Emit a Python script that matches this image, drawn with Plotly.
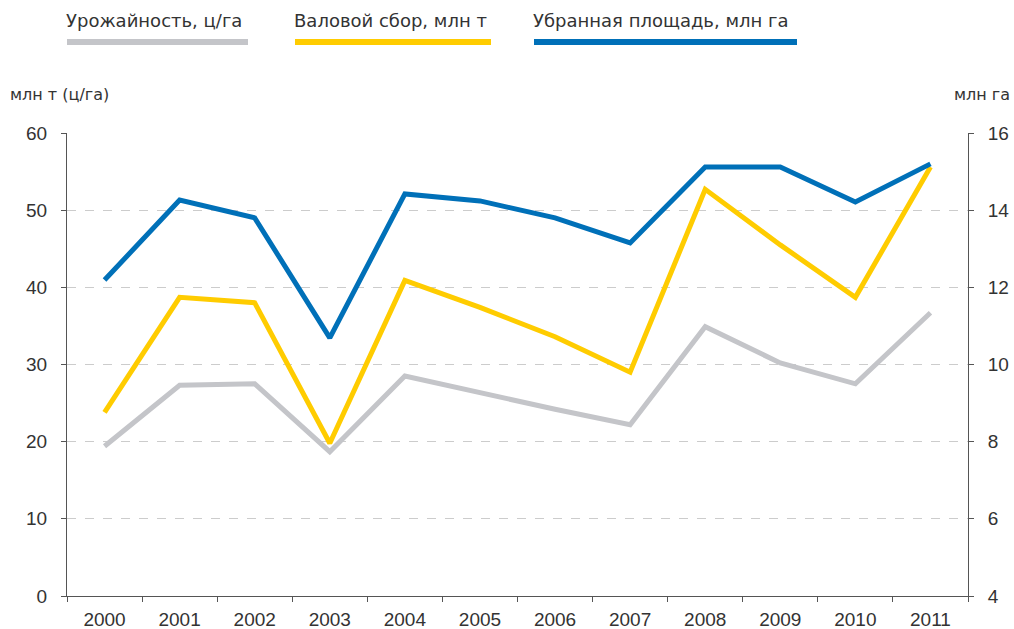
import plotly.graph_objects as go

years = ["2000", "2001", "2002", "2003", "2004", "2005", "2006", "2007", "2008", "2009", "2010", "2011"]
yield_cwt_ha = [19.4, 27.3, 27.5, 18.7, 28.5, 26.3, 24.2, 22.2, 34.9, 30.2, 27.5, 36.7]
gross_harvest_mt = [23.8, 38.7, 38.0, 19.8, 40.9, 37.4, 33.6, 29.0, 52.7, 45.5, 38.7, 55.6]
harvested_area_mha = [12.19, 14.26, 13.80, 10.69, 14.42, 14.24, 13.80, 13.15, 15.12, 15.12, 14.21, 15.20]

series_names = ["Урожайность, ц/га", "Валовой сбор, млн т", "Убранная площадь, млн га"]
colors = ["#C4C5C9", "#FFCC00", "#0070B8"]

W, H = 1014, 629
L, R, T, B = 67, 968, 133, 596

def px(x):
    return (x - L) / (R - L)

def py(y):
    return (B - y) / (B - T)

fig = go.Figure()
fig.add_trace(go.Scatter(x=years, y=yield_cwt_ha, mode="lines", name=series_names[0],
                         line=dict(color=colors[0], width=5), yaxis="y"))
fig.add_trace(go.Scatter(x=years, y=gross_harvest_mt, mode="lines", name=series_names[1],
                         line=dict(color=colors[1], width=5), yaxis="y"))
fig.add_trace(go.Scatter(x=years, y=harvested_area_mha, mode="lines", name=series_names[2],
                         line=dict(color=colors[2], width=5), yaxis="y2"))

tickfont = dict(family="Liberation Sans, Arial", size=19, color="#333333")
axcol = "#555555"

fig.update_layout(
    width=W, height=H,
    margin=dict(l=L, r=W - R, t=T, b=H - B, autoexpand=False),
    plot_bgcolor="white", paper_bgcolor="white",
    showlegend=False,
    hovermode=False,
    xaxis=dict(type="category", range=[-0.5, len(years) - 0.5], tickson="boundaries",
               ticks="outside", ticklen=5, automargin=False,
               tickcolor=axcol, showline=True, linecolor=axcol, linewidth=1,
               showgrid=False, tickfont=tickfont, zeroline=False, ticklabelstandoff=6),
    yaxis=dict(range=[0, 60], dtick=10, ticks="outside", ticklen=5, tickcolor=axcol,
               showline=True, linecolor=axcol, linewidth=1, automargin=False,
               showgrid=True, gridcolor="#CCCCCC", griddash="dash", gridwidth=1,
               tickfont=tickfont, zeroline=False, ticklabelstandoff=10),
    yaxis2=dict(range=[4, 16], dtick=2, overlaying="y", side="right", ticks="outside",
                ticklen=5, tickcolor=axcol, showline=True, linecolor=axcol, linewidth=1,
                showgrid=False, tickfont=tickfont, zeroline=False, ticklabelstandoff=10,
                automargin=False),
)

legend_items = [(64, 251), (292, 494), (531, 800)]
shapes = []
annotations = []
legend_font = dict(family="DejaVu Sans", size=18, color="#333333")
for (x0, x1), name, col in zip(legend_items, series_names, colors):
    shapes.append(dict(type="line", xref="paper", yref="paper",
                       x0=px(x0 + 3), x1=px(x1 - 3), y0=py(42), y1=py(42),
                       line=dict(color=col, width=6)))
    annotations.append(dict(text=name, xref="paper", yref="paper", x=px(x0), y=py(21),
                            xanchor="left", yanchor="middle", showarrow=False, font=legend_font))

annotations.append(dict(text="млн т (ц/га)", xref="paper", yref="paper", x=px(8), y=py(95),
                        xanchor="left", yanchor="middle", showarrow=False,
                        font=dict(family="DejaVu Sans", size=16, color="#333333")))
annotations.append(dict(text="млн га", xref="paper", yref="paper", x=px(1012), y=py(95),
                        xanchor="right", yanchor="middle", showarrow=False,
                        font=dict(family="DejaVu Sans", size=16, color="#333333")))

fig.update_layout(shapes=shapes, annotations=annotations)
fig.write_html("out.html", config={"displayModeBar": False},
               post_script="document.body.style.margin='0';document.body.style.padding='0';")
